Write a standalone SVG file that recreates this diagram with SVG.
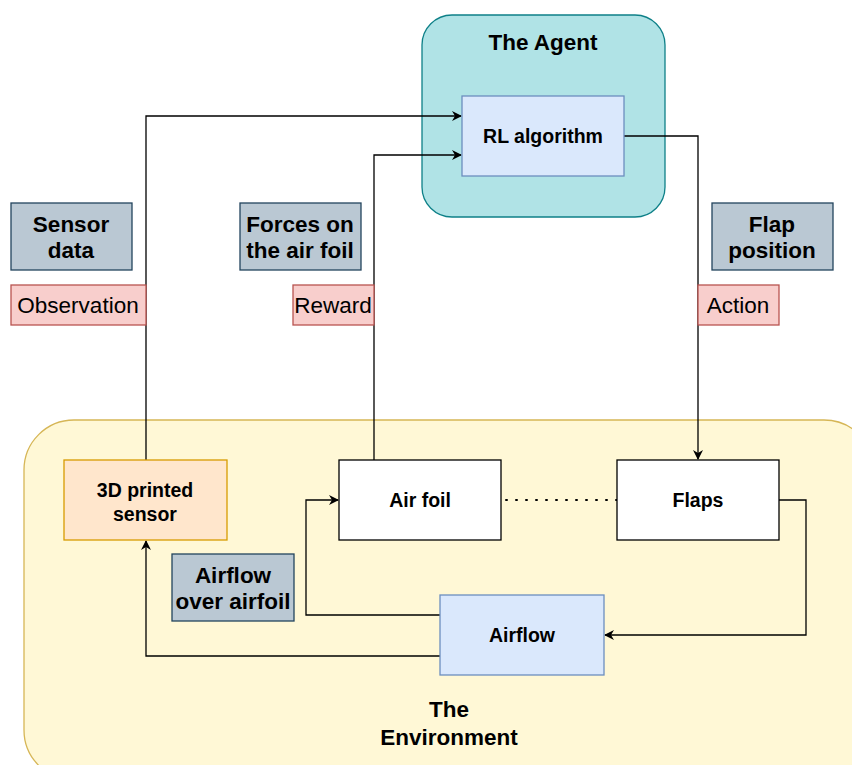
<svg xmlns="http://www.w3.org/2000/svg" width="852" height="765" viewBox="0 0 852 765">
<defs>
<marker id="arr" viewBox="0 0 10 10" refX="9" refY="5" markerWidth="10" markerHeight="10" markerUnits="userSpaceOnUse" orient="auto">
<path d="M0,0 L10,5 L0,10 L3,5 Z" fill="#000"/>
</marker>
<style>
text{font-family:"Liberation Sans",Arial,sans-serif;text-anchor:middle;fill:#000}
.b{font-weight:bold}
.big{font-size:22.5px}
.mid{font-size:19.5px}
.conn{fill:none;stroke:#000;stroke-width:1.3}
.lbl{fill:#bac8d3;stroke:#23445d;stroke-width:1.3}
.edge{fill:#f8cecc;stroke:#b85450;stroke-width:1.3}
.blue{fill:#dae8fc;stroke:#6c8ebf;stroke-width:1.3}
.wht{fill:#fff;stroke:#000;stroke-width:1.3}
</style>
</defs>
<rect width="852" height="765" fill="#fff"/>
<g id="environment">
<rect x="24" y="420" width="850" height="360" rx="50" fill="#fff8d6" stroke="#d6b656" stroke-width="1.3"/>
<text class="b big" x="449" y="717">The</text>
<text class="b big" x="449" y="745">Environment</text>
</g>
<g id="agent">
<rect x="422" y="15" width="243" height="202" rx="30" fill="#b0e3e6" stroke="#0e8088" stroke-width="1.3"/>
<text class="b big" x="543" y="50">The Agent</text>
</g>
<g id="connectors">
<polyline class="conn" points="146,460 146,116 461,116" marker-end="url(#arr)"/>
<polyline class="conn" points="374,460 374,155 461,155" marker-end="url(#arr)"/>
<polyline class="conn" points="624,136 698,136 698,459" marker-end="url(#arr)"/>
<polyline class="conn" points="779,500 806,500 806,635 605,635" marker-end="url(#arr)"/>
<polyline class="conn" points="440,615 306,615 306,500 338,500" marker-end="url(#arr)"/>
<polyline class="conn" points="440,656 146,656 146,541" marker-end="url(#arr)"/>
<line x1="506" y1="500" x2="617" y2="500" stroke="#000" stroke-width="2" stroke-dasharray="1,9" stroke-linecap="round"/>
</g>
<g id="rl">
<rect class="blue" x="462" y="96" width="162" height="80"/>
<text class="b mid" x="543" y="143">RL algorithm</text>
</g>
<g id="sensor-data">
<rect class="lbl" x="11" y="203" width="121" height="67"/>
<text class="b big" x="71" y="232">Sensor</text>
<text class="b big" x="71" y="258">data</text>
</g>
<g id="forces">
<rect class="lbl" x="240" y="203" width="121" height="67"/>
<text class="b big" x="300" y="232">Forces on</text>
<text class="b big" x="300" y="258">the air foil</text>
</g>
<g id="flap-position">
<rect class="lbl" x="712" y="203" width="121" height="67"/>
<text class="b big" x="772" y="232">Flap</text>
<text class="b big" x="772" y="258">position</text>
</g>
<g id="observation">
<rect class="edge" x="11" y="285" width="135" height="40"/>
<text class="big" x="78" y="313">Observation</text>
</g>
<g id="reward">
<rect class="edge" x="293" y="285" width="81" height="40"/>
<text class="big" x="333" y="313">Reward</text>
</g>
<g id="action">
<rect class="edge" x="698" y="285" width="81" height="40"/>
<text class="big" x="738" y="313">Action</text>
</g>
<g id="sensor">
<rect x="64" y="460" width="163" height="80" fill="#ffe6cc" stroke="#d79b00" stroke-width="1.3"/>
<text class="b mid" x="145" y="497">3D printed</text>
<text class="b mid" x="145" y="521">sensor</text>
</g>
<g id="airfoil">
<rect class="wht" x="339" y="460" width="162" height="80"/>
<text class="b mid" x="420" y="507">Air foil</text>
</g>
<g id="flaps">
<rect class="wht" x="617" y="460" width="162" height="80"/>
<text class="b mid" x="698" y="507">Flaps</text>
</g>
<g id="airflow">
<rect class="blue" x="440" y="595" width="164" height="80"/>
<text class="b mid" x="522" y="642">Airflow</text>
</g>
<g id="airflow-label">
<rect class="lbl" x="172" y="554" width="122" height="67"/>
<text class="b big" x="233" y="583">Airflow</text>
<text class="b big" x="233" y="609">over airfoil</text>
</g>
</svg>
